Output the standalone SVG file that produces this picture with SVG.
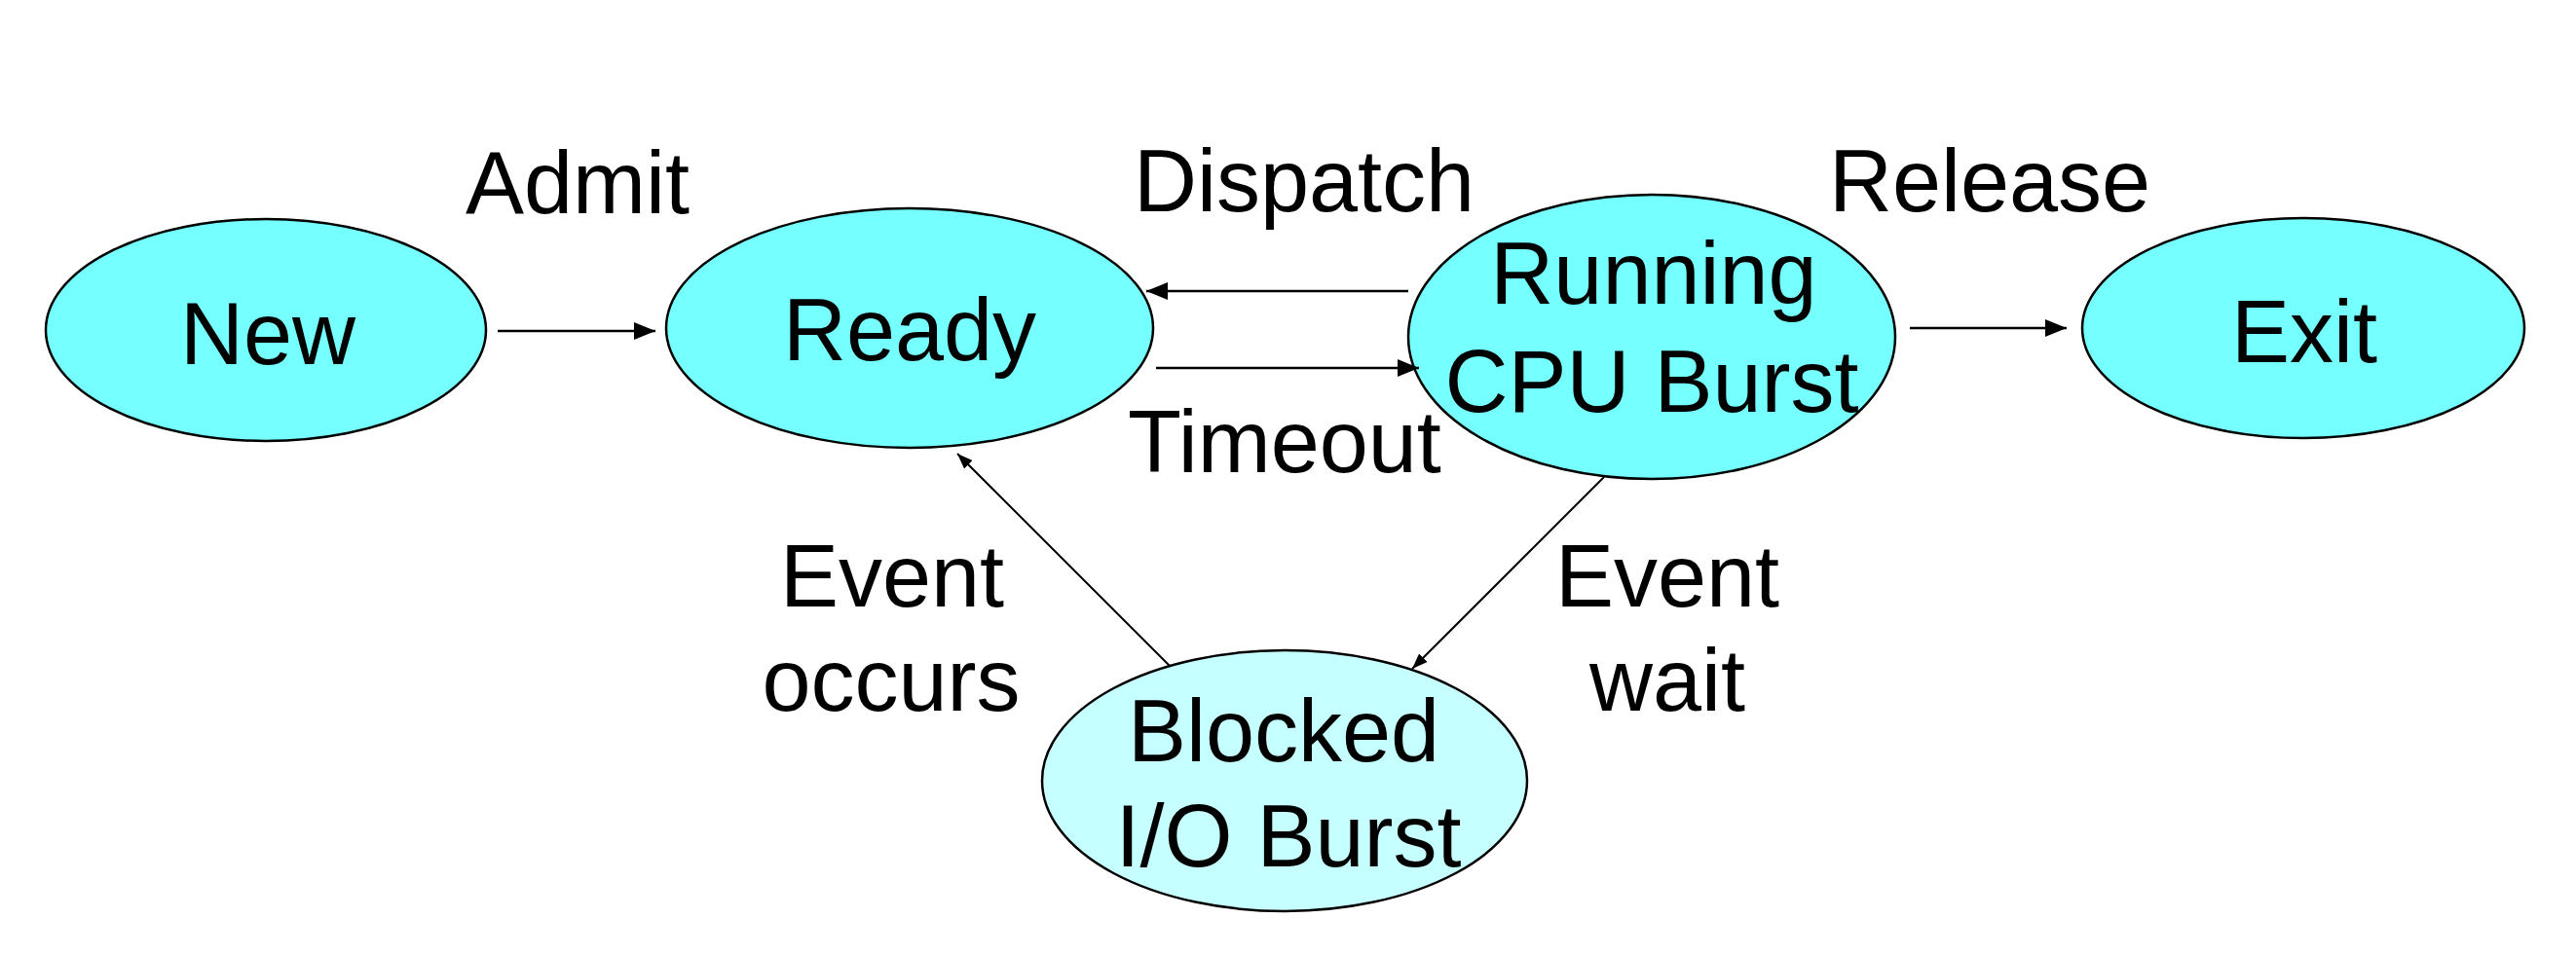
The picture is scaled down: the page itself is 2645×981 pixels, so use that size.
<svg xmlns="http://www.w3.org/2000/svg" width="2645" height="981" viewBox="0 0 2645 981">
<style>
.node{fill:#76ffff;stroke:#000;stroke-width:2.5}
.light{fill:#c6ffff}
.t{font-family:"Liberation Sans",Arial,sans-serif;font-size:90px;fill:#000;text-anchor:middle}
.c{stroke:#000;stroke-width:2.5;fill:none;marker-end:url(#ah)}
.d{stroke:#000;stroke-width:2;fill:none;marker-end:url(#ah2)}
</style>
<defs>
<marker id="ah" markerUnits="userSpaceOnUse" markerWidth="22" markerHeight="18" refX="22" refY="9" orient="auto"><path d="M0,0 L22,9 L0,18 Z" fill="#000"/></marker>
<marker id="ah2" markerUnits="userSpaceOnUse" markerWidth="16" markerHeight="12" refX="16" refY="6" orient="auto"><path d="M0,0 L16,6 L0,12 Z" fill="#000"/></marker>
</defs>
<rect width="2645" height="981" fill="#fff"/>
<g id="new"><ellipse class="node" cx="273" cy="339" rx="226" ry="114"/><text class="t" x="275" y="374">New</text></g>
<g id="ready"><ellipse class="node" cx="934" cy="337" rx="250" ry="123"/><text class="t" x="934" y="370">Ready</text></g>
<g id="running"><ellipse class="node" cx="1696" cy="346" rx="250" ry="146"/><text class="t" x="1698" y="312">Running</text><text class="t" x="1696" y="423">CPU Burst</text></g>
<g id="exit"><ellipse class="node" cx="2365" cy="337" rx="227" ry="113"/><text class="t" x="2366" y="372">Exit</text></g>
<g id="blocked"><ellipse class="node light" cx="1319" cy="802" rx="249" ry="134"/><text class="t" x="1318" y="782">Blocked</text><text class="t" x="1323" y="890">I/O Burst</text></g>
<g id="connectors">
<line class="c" x1="511" y1="340" x2="673" y2="340"/>
<line class="c" x1="1446" y1="299" x2="1177" y2="299"/>
<line class="c" x1="1187" y1="378" x2="1457" y2="378"/>
<line class="c" x1="1961" y1="337" x2="2122" y2="337"/>
<line class="d" x1="1201" y1="684" x2="983" y2="466"/>
<line class="d" x1="1647" y1="490" x2="1450" y2="687"/>
</g>
<g id="labels">
<text class="t" x="593" y="219">Admit</text>
<text class="t" x="1339" y="217">Dispatch</text>
<text class="t" x="1319" y="485">Timeout</text>
<text class="t" x="2043" y="217">Release</text>
<text class="t" x="916" y="623">Event</text>
<text class="t" x="915" y="730">occurs</text>
<text class="t" x="1712" y="623">Event</text>
<text class="t" x="1712" y="730">wait</text>
</g>
</svg>
